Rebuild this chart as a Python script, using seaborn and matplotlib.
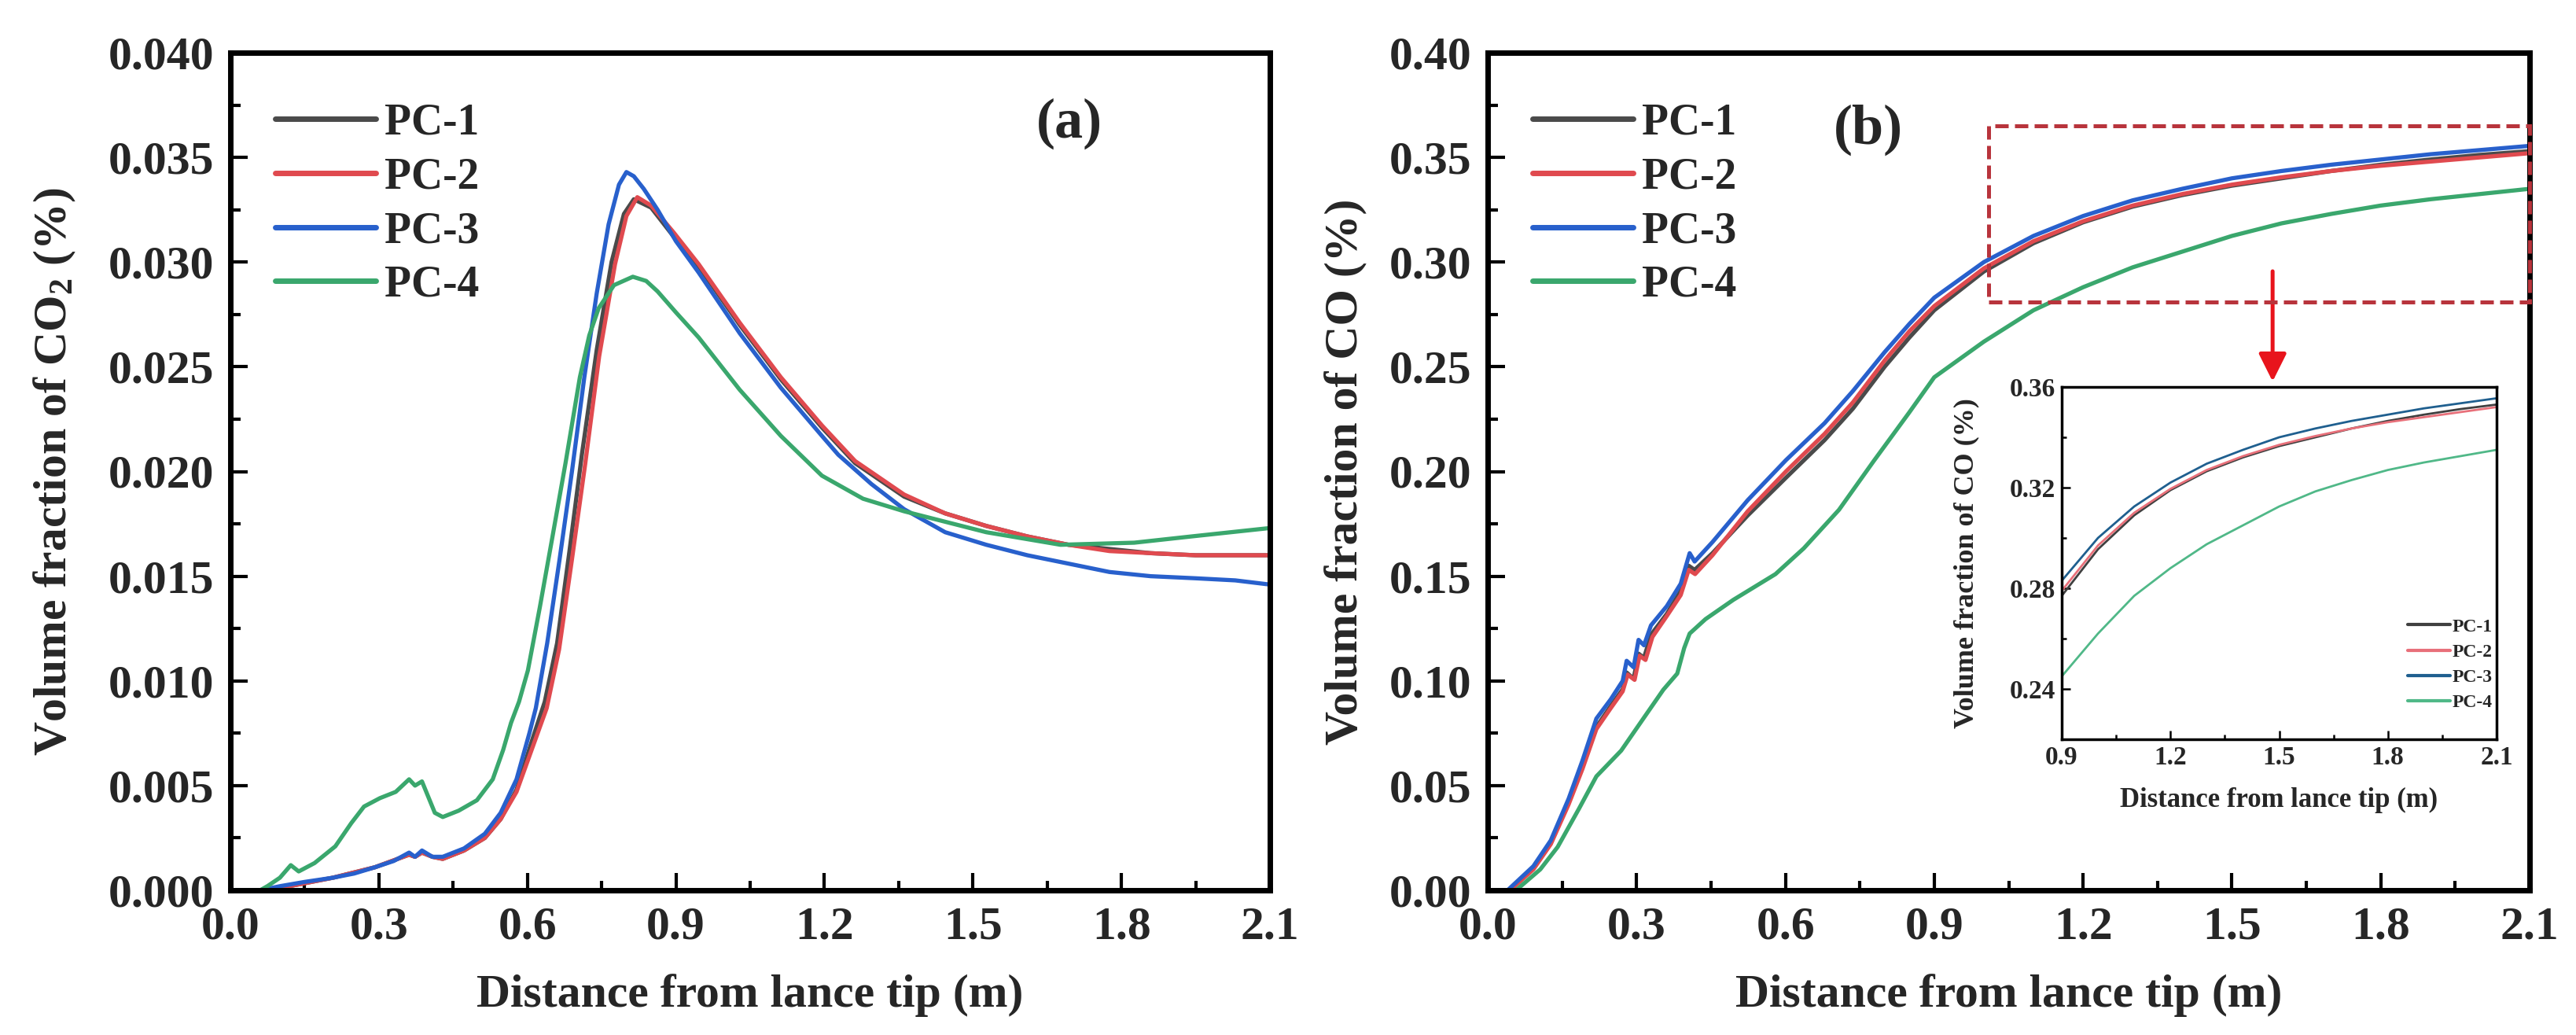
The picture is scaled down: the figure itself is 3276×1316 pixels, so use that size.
import numpy as np
import pandas as pd
import seaborn as sns
import matplotlib
matplotlib.use("Agg")
import matplotlib.pyplot as plt
from matplotlib.ticker import MultipleLocator, AutoMinorLocator, FormatStrFormatter
from matplotlib.patches import Rectangle

# ---------------- data: CO2 (panel a) ----------------
co2_x_pc1 = [0.0, 0.08, 0.12, 0.207, 0.292, 0.361, 0.373, 0.387, 0.408, 0.429, 0.472, 0.514, 0.546, 0.578,
             0.61, 0.635, 0.66, 0.685, 0.71, 0.74, 0.77, 0.795, 0.815, 0.85, 0.896, 0.946, 1.029, 1.112,
             1.195, 1.262, 1.361, 1.444, 1.527, 1.61, 1.693, 1.776, 1.859, 1.95, 2.1]
co2_y_pc1 = [0.0, 0.0, 0.0002, 0.0006, 0.0011, 0.0017, 0.0016, 0.0018, 0.0016, 0.0015, 0.0019, 0.0025, 0.0034, 0.0048,
             0.0072, 0.0090, 0.0118, 0.0162, 0.0208, 0.0258, 0.0300, 0.0323, 0.0330, 0.0326, 0.0312, 0.0298, 0.0270, 0.0244,
             0.0221, 0.0204, 0.0188, 0.0180, 0.0174, 0.0169, 0.0165, 0.0163, 0.0161, 0.0160, 0.0160]

co2_x_pc2 = [0.0, 0.08, 0.12, 0.207, 0.292, 0.361, 0.373, 0.387, 0.408, 0.429, 0.472, 0.514, 0.546, 0.578,
             0.61, 0.639, 0.664, 0.69, 0.717, 0.745, 0.777, 0.80, 0.822, 0.85, 0.896, 0.946, 1.029, 1.112,
             1.195, 1.262, 1.361, 1.444, 1.527, 1.61, 1.693, 1.776, 1.859, 1.95, 2.1]
co2_y_pc2 = [0.0, 0.0, 0.0002, 0.0006, 0.0011, 0.0017, 0.0016, 0.0018, 0.0016, 0.0015, 0.0019, 0.0025, 0.0034, 0.0047,
             0.0068, 0.0087, 0.0115, 0.0158, 0.0204, 0.0255, 0.0299, 0.0322, 0.0331, 0.0327, 0.0314, 0.0299, 0.0271, 0.0245,
             0.0222, 0.0205, 0.0189, 0.0180, 0.0174, 0.0169, 0.0165, 0.0162, 0.0161, 0.0160, 0.0160]

co2_x_pc3 = [0.0, 0.06, 0.101, 0.15, 0.207, 0.25, 0.292, 0.33, 0.361, 0.373, 0.387, 0.408, 0.429, 0.472, 0.514,
             0.546, 0.578, 0.604, 0.617, 0.64, 0.665, 0.69, 0.715, 0.74, 0.764, 0.785, 0.80, 0.815, 0.835, 0.863,
             0.9, 0.946, 1.029, 1.112, 1.195, 1.228, 1.295, 1.361, 1.444, 1.527, 1.61, 1.693, 1.776, 1.859,
             1.95, 2.03, 2.1]
co2_y_pc3 = [0.0, 0.0, 0.0002, 0.0004, 0.0006, 0.0008, 0.0011, 0.0014, 0.0018, 0.0016, 0.0019, 0.0016, 0.0016, 0.0020, 0.0027,
             0.0037, 0.0053, 0.0075, 0.0087, 0.0118, 0.0158, 0.0200, 0.0245, 0.0285, 0.0318, 0.0337, 0.0343, 0.0341, 0.0335, 0.0325,
             0.0310, 0.0295, 0.0266, 0.0240, 0.0217, 0.0208, 0.0194, 0.0182, 0.0171, 0.0165, 0.0160, 0.0156, 0.0152, 0.0150,
             0.0149, 0.0148, 0.0146]

co2_x_pc4 = [0.0, 0.06, 0.075, 0.10, 0.122, 0.138, 0.170, 0.212, 0.244, 0.270, 0.302, 0.334, 0.361, 0.373, 0.387,
             0.413, 0.429, 0.461, 0.498, 0.530, 0.551, 0.567, 0.583, 0.601, 0.625, 0.65, 0.677, 0.706, 0.725, 0.744,
             0.775, 0.813, 0.84, 0.863, 0.9, 0.946, 1.029, 1.112, 1.195, 1.278, 1.361, 1.527, 1.677, 1.826,
             1.942, 2.1]
co2_y_pc4 = [0.0, 0.0, 0.0002, 0.0006, 0.0012, 0.0009, 0.0013, 0.0021, 0.0032, 0.0040, 0.0044, 0.0047, 0.0053, 0.0050, 0.0052,
             0.0037, 0.0035, 0.0038, 0.0043, 0.0053, 0.0067, 0.0080, 0.0090, 0.0105, 0.0135, 0.0168, 0.0204, 0.0245, 0.0265, 0.0278,
             0.0289, 0.0293, 0.0291, 0.0286, 0.0276, 0.0264, 0.0239, 0.0217, 0.0198, 0.0187, 0.0181, 0.0171, 0.0165, 0.0166,
             0.0169, 0.0173]

# ---------------- data: CO (panel b) ----------------
co_x_pc1 = [0.0, 0.045, 0.092, 0.127, 0.163, 0.191, 0.219, 0.248, 0.272, 0.28, 0.294, 0.304, 0.315, 0.329, 0.361,
            0.389, 0.405, 0.417, 0.453, 0.524, 0.601, 0.679, 0.736, 0.8, 0.85, 0.9, 1.0, 1.1, 1.2, 1.3, 1.4,
            1.5, 1.6, 1.7, 1.8, 1.9, 2.0, 2.1]
co_y_pc1 = [0.0, 0.0, 0.0105, 0.0225, 0.042, 0.059, 0.078, 0.088, 0.096, 0.104, 0.101, 0.113, 0.111, 0.122, 0.132,
            0.143, 0.155, 0.153, 0.161, 0.179, 0.197, 0.215, 0.230, 0.250, 0.264, 0.277, 0.2955, 0.309, 0.319, 0.3265, 0.332,
            0.3365, 0.340, 0.3435, 0.3465, 0.349, 0.3512, 0.353]

co_x_pc2 = [0.0, 0.045, 0.092, 0.127, 0.163, 0.191, 0.219, 0.248, 0.272, 0.282, 0.296, 0.306, 0.318, 0.332, 0.361,
            0.389, 0.405, 0.418, 0.453, 0.524, 0.601, 0.679, 0.736, 0.8, 0.85, 0.9, 1.0, 1.1, 1.2, 1.3, 1.4,
            1.5, 1.6, 1.7, 1.8, 1.9, 2.0, 2.1]
co_y_pc2 = [0.0, 0.0, 0.010, 0.022, 0.041, 0.058, 0.077, 0.087, 0.095, 0.103, 0.1005, 0.112, 0.110, 0.121, 0.131,
            0.141, 0.153, 0.151, 0.160, 0.181, 0.200, 0.218, 0.233, 0.253, 0.267, 0.279, 0.297, 0.310, 0.3195, 0.327, 0.3325,
            0.337, 0.3405, 0.3435, 0.346, 0.348, 0.350, 0.352]

co_x_pc3 = [0.0, 0.04, 0.092, 0.127, 0.163, 0.191, 0.219, 0.248, 0.272, 0.28, 0.294, 0.304, 0.315, 0.329, 0.361,
            0.389, 0.407, 0.417, 0.453, 0.524, 0.601, 0.679, 0.736, 0.8, 0.85, 0.9, 1.0, 1.1, 1.2, 1.3, 1.4,
            1.5, 1.6, 1.7, 1.8, 1.9, 2.0, 2.1]
co_y_pc3 = [0.0, 0.0, 0.0115, 0.0238, 0.0437, 0.062, 0.082, 0.0912, 0.100, 0.1096, 0.1065, 0.1196, 0.117, 0.1265, 0.1357,
            0.1464, 0.161, 0.157, 0.1663, 0.1863, 0.2054, 0.2231, 0.2384, 0.257, 0.2705, 0.283, 0.300, 0.3125, 0.322, 0.3295, 0.335,
            0.340, 0.3435, 0.3465, 0.349, 0.3515, 0.3535, 0.3555]

co_x_pc4 = [0.0, 0.057, 0.106, 0.141, 0.184, 0.219, 0.269, 0.318, 0.354, 0.382, 0.396, 0.407, 0.439, 0.495, 0.580,
            0.637, 0.708, 0.778, 0.849, 0.9, 1.0, 1.1, 1.2, 1.3, 1.4, 1.5, 1.6, 1.7, 1.8, 1.9, 2.0, 2.1]
co_y_pc4 = [0.0, 0.0, 0.010, 0.0207, 0.039, 0.0544, 0.0667, 0.0835, 0.0958, 0.1035, 0.1157, 0.1226, 0.1295, 0.1387, 0.151,
            0.1633, 0.1817, 0.205, 0.228, 0.245, 0.262, 0.277, 0.288, 0.2975, 0.305, 0.3125, 0.3185, 0.323, 0.327, 0.330, 0.3325, 0.335]

series_names = ["PC-1", "PC-2", "PC-3", "PC-4"]
main_colors = ["#4a4a4a", "#e04a4f", "#2860cc", "#3aa76d"]
inset_colors = ["#404040", "#e8707a", "#1f5f8f", "#50b888"]

x_ticks = [0.0, 0.3, 0.6, 0.9, 1.2, 1.5, 1.8, 2.1]
co2_ticks = [0.000, 0.005, 0.010, 0.015, 0.020, 0.025, 0.030, 0.035, 0.040]
co_ticks = [0.00, 0.05, 0.10, 0.15, 0.20, 0.25, 0.30, 0.35, 0.40]
inset_x_ticks = [0.9, 1.2, 1.5, 1.8, 2.1]
inset_y_ticks = [0.24, 0.28, 0.32, 0.36]


def frame(xs, ys):
    parts = []
    for n, x, y in zip(series_names, xs, ys):
        parts.append(pd.DataFrame({"x": x, "y": y, "case": n}))
    return pd.concat(parts, ignore_index=True)


df_co2 = frame([co2_x_pc1, co2_x_pc2, co2_x_pc3, co2_x_pc4], [co2_y_pc1, co2_y_pc2, co2_y_pc3, co2_y_pc4])
df_co = frame([co_x_pc1, co_x_pc2, co_x_pc3, co_x_pc4], [co_y_pc1, co_y_pc2, co_y_pc3, co_y_pc4])

# ---------------- style ----------------
sns.set_style("ticks")
plt.rcParams["font.family"] = ["Liberation Serif", "DejaVu Serif"]
plt.rcParams["font.weight"] = "bold"
plt.rcParams["axes.labelweight"] = "bold"
plt.rcParams["mathtext.fontset"] = "custom"
plt.rcParams["mathtext.rm"] = "Liberation Serif:bold"
plt.rcParams["mathtext.it"] = "Liberation Serif:bold"
plt.rcParams["mathtext.bf"] = "Liberation Serif:bold"
plt.rcParams["mathtext.default"] = "rm"

W, H = 3276, 1316
fig = plt.figure(figsize=(W / 100, H / 100), dpi=100)


def px_axes(l, r, t, b):
    return fig.add_axes([l / W, 1 - b / H, (r - l) / W, (b - t) / H])


ax_a = px_axes(293, 1615, 67, 1132)
ax_b = px_axes(1892, 3217, 67, 1132)
ax_in = px_axes(2622, 3175, 492, 940)

palette = dict(zip(series_names, main_colors))
pal_in = dict(zip(series_names, inset_colors))

for ax, df in [(ax_a, df_co2), (ax_b, df_co)]:
    sns.lineplot(data=df, x="x", y="y", hue="case", hue_order=series_names, palette=palette,
                 sort=False, estimator=None, lw=3.8, ax=ax)
sns.lineplot(data=df_co, x="x", y="y", hue="case", hue_order=series_names, palette=pal_in,
             sort=False, estimator=None, lw=2.0, ax=ax_in)


def style_axis(ax, yt, yfmt, xt, xfmt, fs, spine_w, maj_len, min_len, tw, pad):
    ax.set_xlim(xt[0], xt[-1])
    ax.set_ylim(yt[0], yt[-1])
    ax.set_xticks(xt)
    ax.set_yticks(yt)
    ax.xaxis.set_major_formatter(FormatStrFormatter(xfmt))
    ax.yaxis.set_major_formatter(FormatStrFormatter(yfmt))
    ax.xaxis.set_minor_locator(AutoMinorLocator(2))
    ax.yaxis.set_minor_locator(AutoMinorLocator(2))
    ax.tick_params(which="both", direction="in", top=False, right=False, width=tw, color="black")
    ax.tick_params(which="major", length=maj_len, labelsize=fs, pad=pad)
    ax.tick_params(which="minor", length=min_len)
    for s in ax.spines.values():
        s.set_linewidth(spine_w)
        s.set_color("black")
        s.set_visible(True)
    for lab in ax.get_xticklabels() + ax.get_yticklabels():
        lab.set_fontweight("bold")


style_axis(ax_a, co2_ticks, "%.3f", x_ticks, "%.1f", 43, 5, 16, 9, 3, 15)
style_axis(ax_b, co_ticks, "%.2f", x_ticks, "%.1f", 43, 5, 16, 9, 3, 15)
style_axis(ax_in, inset_y_ticks, "%.2f", inset_x_ticks, "%.1f", 24, 2.5, 8, 4, 1.8, 6)
ax_in.set_ylim(0.22, 0.36)
ax_in.set_yticks(inset_y_ticks)
ax_in.yaxis.set_minor_locator(AutoMinorLocator(2))

lab_fs = 43
ax_a.set_xlabel("Distance from lance tip (m)", fontsize=lab_fs, fontweight="bold")
ax_b.set_xlabel("Distance from lance tip (m)", fontsize=lab_fs, fontweight="bold")
ax_a.set_ylabel("Volume fraction of CO$_2$ (%)", fontsize=lab_fs, fontweight="bold")
ax_b.set_ylabel("Volume fraction of CO (%)", fontsize=lab_fs, fontweight="bold")
ax_a.xaxis.set_label_coords(0.5, -0.10)
ax_b.xaxis.set_label_coords(0.5, -0.10)
ax_a.yaxis.set_label_coords(-0.147, 0.5)
ax_b.yaxis.set_label_coords(-0.115, 0.5)

ax_in.set_xlabel("Distance from lance tip (m)", fontsize=25, fontweight="bold")
ax_in.set_ylabel("Volume fraction of CO (%)", fontsize=26, fontweight="bold")
ax_in.xaxis.set_label_coords(0.5, -0.135)
ax_in.yaxis.set_label_coords(-0.19, 0.5)

for ax in (ax_a, ax_b):
    ax.legend(loc="upper left", bbox_to_anchor=(0.043, 0.94), frameon=False, fontsize=40,
              handlelength=2.3, handletextpad=0.2, labelspacing=0.3, borderaxespad=0, borderpad=0)
    for t in ax.get_legend().get_texts():
        t.set_fontweight("bold")
    for ln in ax.get_legend().get_lines():
        ln.set_linewidth(5)

ax_in.legend(loc="lower right", bbox_to_anchor=(0.99, 0.08), frameon=False, fontsize=17,
             handlelength=2.3, handletextpad=0.1, labelspacing=0.45, borderaxespad=0, borderpad=0)
for t in ax_in.get_legend().get_texts():
    t.set_fontweight("bold")
for ln in ax_in.get_legend().get_lines():
    ln.set_linewidth(3)

ax_a.text(0.807, 0.915, "(a)", transform=ax_a.transAxes, ha="center", va="center", fontsize=52, fontweight="bold")
ax_b.text(0.365, 0.908, "(b)", transform=ax_b.transAxes, ha="center", va="center", fontsize=52, fontweight="bold")

# zoom box and arrow
ax_b.add_patch(Rectangle((1.01, 0.281), 2.1 - 1.01, 0.365 - 0.281, fill=False, ec="#b8343c", lw=3.6,
                         ls=(0, (3.4, 1.6)), clip_on=False, zorder=5))
ax_b.annotate("", xy=(1.582, 0.243), xytext=(1.582, 0.2956),
              arrowprops=dict(arrowstyle="-|>,head_length=0.4,head_width=0.2", color="#e8141c", lw=3.6,
                              mutation_scale=54, shrinkA=0, shrinkB=0))

fig.savefig("out.png", dpi=100, facecolor="white")
